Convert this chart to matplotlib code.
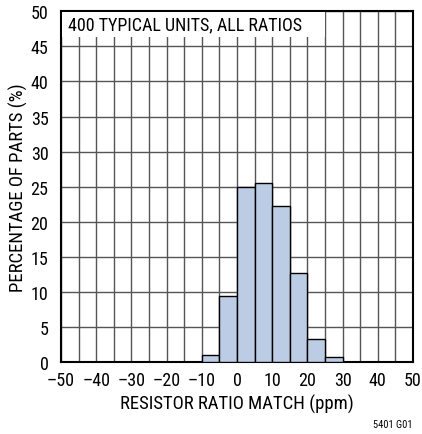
import matplotlib
matplotlib.use("Agg")
import matplotlib.pyplot as plt

# histogram bins (ppm) and percentage of parts in each bin
bin_left = [-10, -5, 0, 5, 10, 15, 20, 25]
percent = [1.0, 9.5, 25.0, 25.5, 22.25, 12.75, 3.25, 0.75]
bin_width = 5

x_ticks = list(range(-50, 51, 10))
y_ticks = list(range(0, 51, 5))

plt.rcParams['font.family'] = ['Roboto Condensed', 'DejaVu Sans']

fig = plt.figure(figsize=(4.22, 4.35), dpi=100)
ax = fig.add_axes([0.1445, 0.1648, 0.8342, 0.807])

ax.set_xlim(-50, 50)
ax.set_ylim(0, 50)
ax.set_xticks(x_ticks)
ax.set_xticks(list(range(-50, 51, 5)), minor=True)
ax.set_yticks(y_ticks)
ax.grid(True, which='both', color='#555555', linewidth=1.0)
ax.set_axisbelow(True)

ax.bar(bin_left, percent, width=bin_width, align='edge',
       color='#bccce4', edgecolor='black', linewidth=1.0, zorder=3)

ax.tick_params(which='both', length=0, labelsize=13)
ax.tick_params(axis='x', pad=6)
ax.tick_params(axis='y', pad=9)
ax.set_xticklabels([f"{t}".replace('-', '\u2013') for t in x_ticks])
for s in ax.spines.values():
    s.set_linewidth(1.5)

ax.set_xlabel('RESISTOR RATIO MATCH (ppm)', fontsize=13.5, labelpad=4)
ax.set_ylabel('PERCENTAGE OF PARTS (%)', fontsize=13.5, labelpad=2)

ax.add_patch(plt.Rectangle((-49.6, 46.4), 74.6, 3.5, facecolor='white', edgecolor='none', zorder=4))
ax.text(-48, 48.2, '400 TYPICAL UNITS, ALL RATIOS', fontsize=13, va='center', ha='left', zorder=5)

fig.text(0.977, 0.012, '5401 G01', fontsize=7.5, ha='right', va='bottom')

fig.savefig('out.png', dpi=100)
